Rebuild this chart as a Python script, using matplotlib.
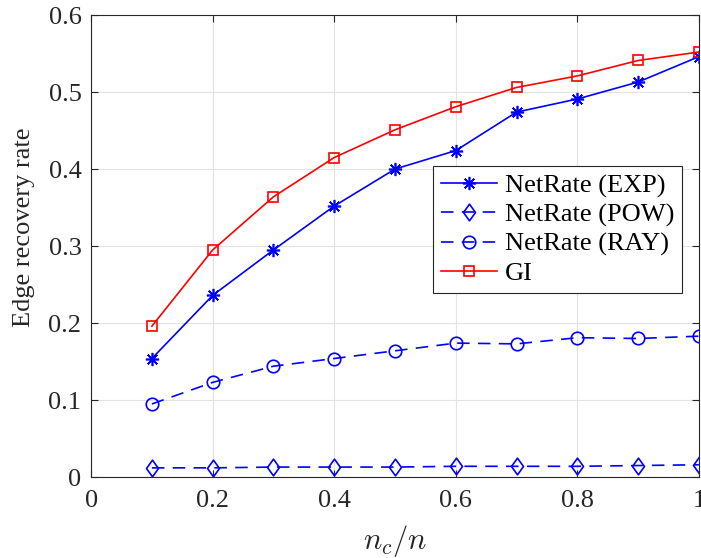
import matplotlib
matplotlib.use('Agg')
import matplotlib.pyplot as plt
from matplotlib.path import Path

plt.rcParams['font.family'] = ['Liberation Serif', 'DejaVu Serif']
plt.rcParams['mathtext.fontset'] = 'cm'

x = [0.1, 0.2, 0.3, 0.4, 0.5, 0.6, 0.7, 0.8, 0.9, 1.0]
exp_rate = [0.154, 0.236, 0.295, 0.352, 0.400, 0.424, 0.474, 0.491, 0.513, 0.546]
pow_rate = [0.012, 0.012, 0.013, 0.013, 0.013, 0.014, 0.014, 0.014, 0.015, 0.016]
ray_rate = [0.095, 0.123, 0.144, 0.154, 0.164, 0.174, 0.173, 0.181, 0.180, 0.183]
gi_rate = [0.196, 0.295, 0.364, 0.415, 0.451, 0.481, 0.506, 0.521, 0.541, 0.552]

# matlab style diamond, a bit taller than wide
diamond = Path([(0, 1), (0.72, 0), (0, -1), (-0.72, 0), (0, 1)],
               [Path.MOVETO, Path.LINETO, Path.LINETO, Path.LINETO, Path.CLOSEPOLY])

fig = plt.figure(figsize=(7.01, 5.58), dpi=100)
ax = fig.add_axes([0.130, 0.145, 0.867, 0.828])

lw = 1.2
dash = (7.5, 5)
ax.plot(x, exp_rate, 'b-', marker=(8, 2, 0), ms=9.5, mew=1.2, lw=lw, label='NetRate (EXP)')
ax.plot(x, pow_rate, 'b--', marker=diamond, ms=12, mfc='none', mew=1.2, lw=lw, dashes=dash, label='NetRate (POW)')
ax.plot(x, ray_rate, 'b--', marker='o', ms=9, mfc='none', mew=1.2, lw=lw, dashes=dash, label='NetRate (RAY)')
ax.plot(x, gi_rate, 'r-', marker='s', ms=7.5, mfc='none', mew=1.2, lw=lw, label='GI')

ax.set_xlim(0, 1)
ax.set_ylim(0, 0.6)
ax.set_xticks([0, 0.2, 0.4, 0.6, 0.8, 1])
ax.set_xticklabels(['0', '0.2', '0.4', '0.6', '0.8', '1'])
ax.set_yticks([0, 0.1, 0.2, 0.3, 0.4, 0.5, 0.6])
ax.set_yticklabels(['0', '0.1', '0.2', '0.3', '0.4', '0.5', '0.6'])
ax.grid(True, color='#e3e3e3', lw=0.8)
ax.set_axisbelow(True)
ax.tick_params(direction='in', top=True, right=True, labelsize=19, length=5, colors='#262626')
ax.tick_params(axis='y', pad=7)
ax.tick_params(axis='x', pad=9)
for sp in ax.spines.values():
    sp.set_color('#262626')
    sp.set_linewidth(0.8)

ax.set_xlabel('$n_c/n$', fontsize=22, color='#262626', labelpad=8)
ax.set_ylabel('Edge recovery rate', fontsize=19, color='#262626')
ax.yaxis.set_label_coords(-0.092, 0.54)

leg = ax.legend(loc='upper right', bbox_to_anchor=(0.972, 0.673), borderaxespad=0, fontsize=19,
                fancybox=False, edgecolor='#262626', framealpha=1, handlelength=2.1,
                handletextpad=0.3, borderpad=0.3, labelspacing=0.2)
leg.get_frame().set_linewidth(0.8)

fig.savefig('out.png', dpi=100)
